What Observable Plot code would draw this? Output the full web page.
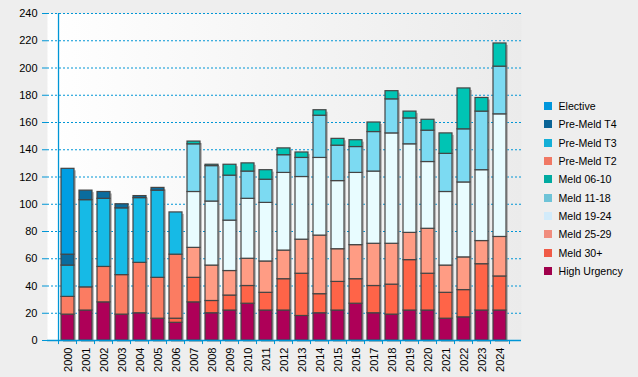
<!DOCTYPE html>
<html>
<head>
<meta charset="utf-8">
<script src="https://cdn.jsdelivr.net/npm/d3@7"></script>
<script src="https://cdn.jsdelivr.net/npm/@observablehq/plot@0.6"></script>
<style>
  html, body { margin: 0; padding: 0; background: #eeeeee; }
  #wrap { position: relative; width: 638px; height: 377px; overflow: hidden; font-family: "Liberation Sans", Arial, sans-serif; }
  #legend { position: absolute; left: 544px; top: 100px; }
  .item { position: absolute; left: 0; height: 12px; white-space: nowrap; font-size: 10.6px; color: #000; }
  .sw { position: absolute; left: 0; top: 2px; width: 8px; height: 8px; }
  .lab { position: absolute; left: 14.5px; top: -1px; line-height: 14px; }
</style>
</head>
<body>
<svg width="0" height="0" style="position:absolute">
  <defs>
    <linearGradient id="bg" x1="0" y1="0" x2="1" y2="0">
      <stop offset="0" stop-color="#ffffff"/>
      <stop offset="1" stop-color="#ebebeb"/>
    </linearGradient>
  </defs>
</svg>
<div id="wrap"><div id="legend"></div></div>
<script>
const years = ["2000","2001","2002","2003","2004","2005","2006","2007","2008","2009","2010","2011","2012",
  "2013","2014","2015","2016","2017","2018","2019","2020","2021","2022","2023","2024"];

// stack order bottom -> top
const seriesNames = ["High Urgency","Meld 30+","Meld 25-29","Meld 19-24","Meld 11-18","Meld 06-10",
  "Pre-Meld T2","Pre-Meld T3","Pre-Meld T4","Elective"];

const highUrgency = [19,22,28,19,20,16,13,28,20,22,27,22,22,18,20,22,27,20,19,22,22,16,17,22,22];
const meld30 =      [0,0,0,0,0,0,3,18,9,11,13,13,23,31,14,21,18,20,22,37,27,19,20,34,25];
const meld2529 =    [0,0,0,0,0,0,0,22,26,18,20,23,21,25,43,24,25,31,30,20,33,20,24,17,29];
const meld1924 =    [0,0,0,0,0,0,0,41,47,37,44,43,57,46,57,50,53,53,81,65,49,54,55,52,90];
const meld1118 =    [0,0,0,0,0,0,0,35,26,33,20,17,13,14,31,26,19,29,25,19,23,28,39,43,35];
const meld0610 =    [0,0,0,0,0,0,0,2,1,8,6,7,5,4,4,5,5,7,6,5,8,15,30,10,17];
const preMeldT2 =   [13,17,26,29,37,30,47,0,0,0,0,0,0,0,0,0,0,0,0,0,0,0,0,0,0];
const preMeldT3 =   [23,64,50,49,47.5,64,31,0,0,0,0,0,0,0,0,0,0,0,0,0,0,0,0,0,0];
const preMeldT4 =   [8,7,5,3,1.5,2,0,0,0,0,0,0,0,0,0,0,0,0,0,0,0,0,0,0,0];
const elective =    [63,0,0,0,0,0,0,0,0,0,0,0,0,0,0,0,0,0,0,0,0,0,0,0,0];

const yTicks = [0,20,40,60,80,100,120,140,160,180,200,220,240];

const seriesValues = [highUrgency, meld30, meld2529, meld1924, meld1118, meld0610, preMeldT2, preMeldT3, preMeldT4, elective];
const barColors = ["#ae0058","#ff6448","#ff9c84","#e8fcff","#7cdaf2","#00c4b4","#fb7c62","#16bae6","#0b6c9e","#009ee2"];
const legendColors = ["#a0004b","#f05a46","#f08c7d","#d2ebfa","#6ec3d7","#00aaa0","#f07864","#14afd7","#0a6496","#0096dc"];

const rows = [];
seriesNames.forEach((s, i) => years.forEach((y, j) => {
  if (seriesValues[i][j] > 0) rows.push({year: y, series: s, value: seriesValues[i][j]});
}));
const totals = years.map((y, j) => ({year: y, total: d3.sum(seriesValues, v => v[j])}));

const W = 638, H = 377, mL = 47, mR = 117, mT = 13, mB = 37;
const step = (W - mL - mR) / years.length;
const blue = "#0096d6";

const chart = Plot.plot({
  width: W, height: H,
  marginLeft: mL, marginRight: mR, marginTop: mT, marginBottom: mB,
  style: {background: "transparent", fontFamily: "'Liberation Sans', Arial, sans-serif", fontSize: "11px", overflow: "visible"},
  x: {domain: years, paddingInner: 0.26, paddingOuter: 0.13, axis: null},
  y: {domain: [0, 240], axis: null},
  color: {domain: seriesNames, range: barColors},
  marks: [
    Plot.frame({fill: "url(#bg)", stroke: "none"}),
    Plot.gridY(yTicks.slice(1), {stroke: blue, strokeOpacity: 1, strokeDasharray: "2,2", strokeWidth: 1}),
    Plot.barY(totals, {x: "year", y: "total", fill: "#8a8a8a", fillOpacity: 0.55, dx: 2, dy: 2}),
    Plot.barY(rows, Plot.stackY({x: "year", y: "value", fill: "series", order: seriesNames,
      stroke: "#444", strokeWidth: 1.2})),
    Plot.ruleY([0], {stroke: blue, strokeWidth: 1.3}),
    Plot.ruleX([years[0]], {y1: 0, y2: 240, dx: -step / 2, stroke: blue, strokeWidth: 1.3}),
    Plot.ruleX(years, {y1: 0, y2: -3, dx: -step / 2, stroke: blue}),
    Plot.ruleX([years[years.length - 1]], {y1: 0, y2: -3, dx: step / 2, stroke: blue}),
    Plot.axisY(yTicks, {tickSize: 5, tickPadding: 5, stroke: blue, fill: "#000", label: null, fontSize: 11}),
    Plot.axisX({tickSize: 0, tickRotate: -90, tickPadding: 7, fill: "#000", label: null, fontSize: 11})
  ]
});
document.getElementById("wrap").prepend(chart);

const legend = document.getElementById("legend");
const legendOrder = seriesNames.map((s, i) => i).reverse();
legendOrder.forEach((i, k) => {
  const it = document.createElement("div");
  it.className = "item";
  it.style.top = (k * 18.35) + "px";
  it.innerHTML = `<span class="sw" style="background:${legendColors[i]}"></span><span class="lab">${seriesNames[i]}</span>`;
  legend.appendChild(it);
});
</script>
</body>
</html>
